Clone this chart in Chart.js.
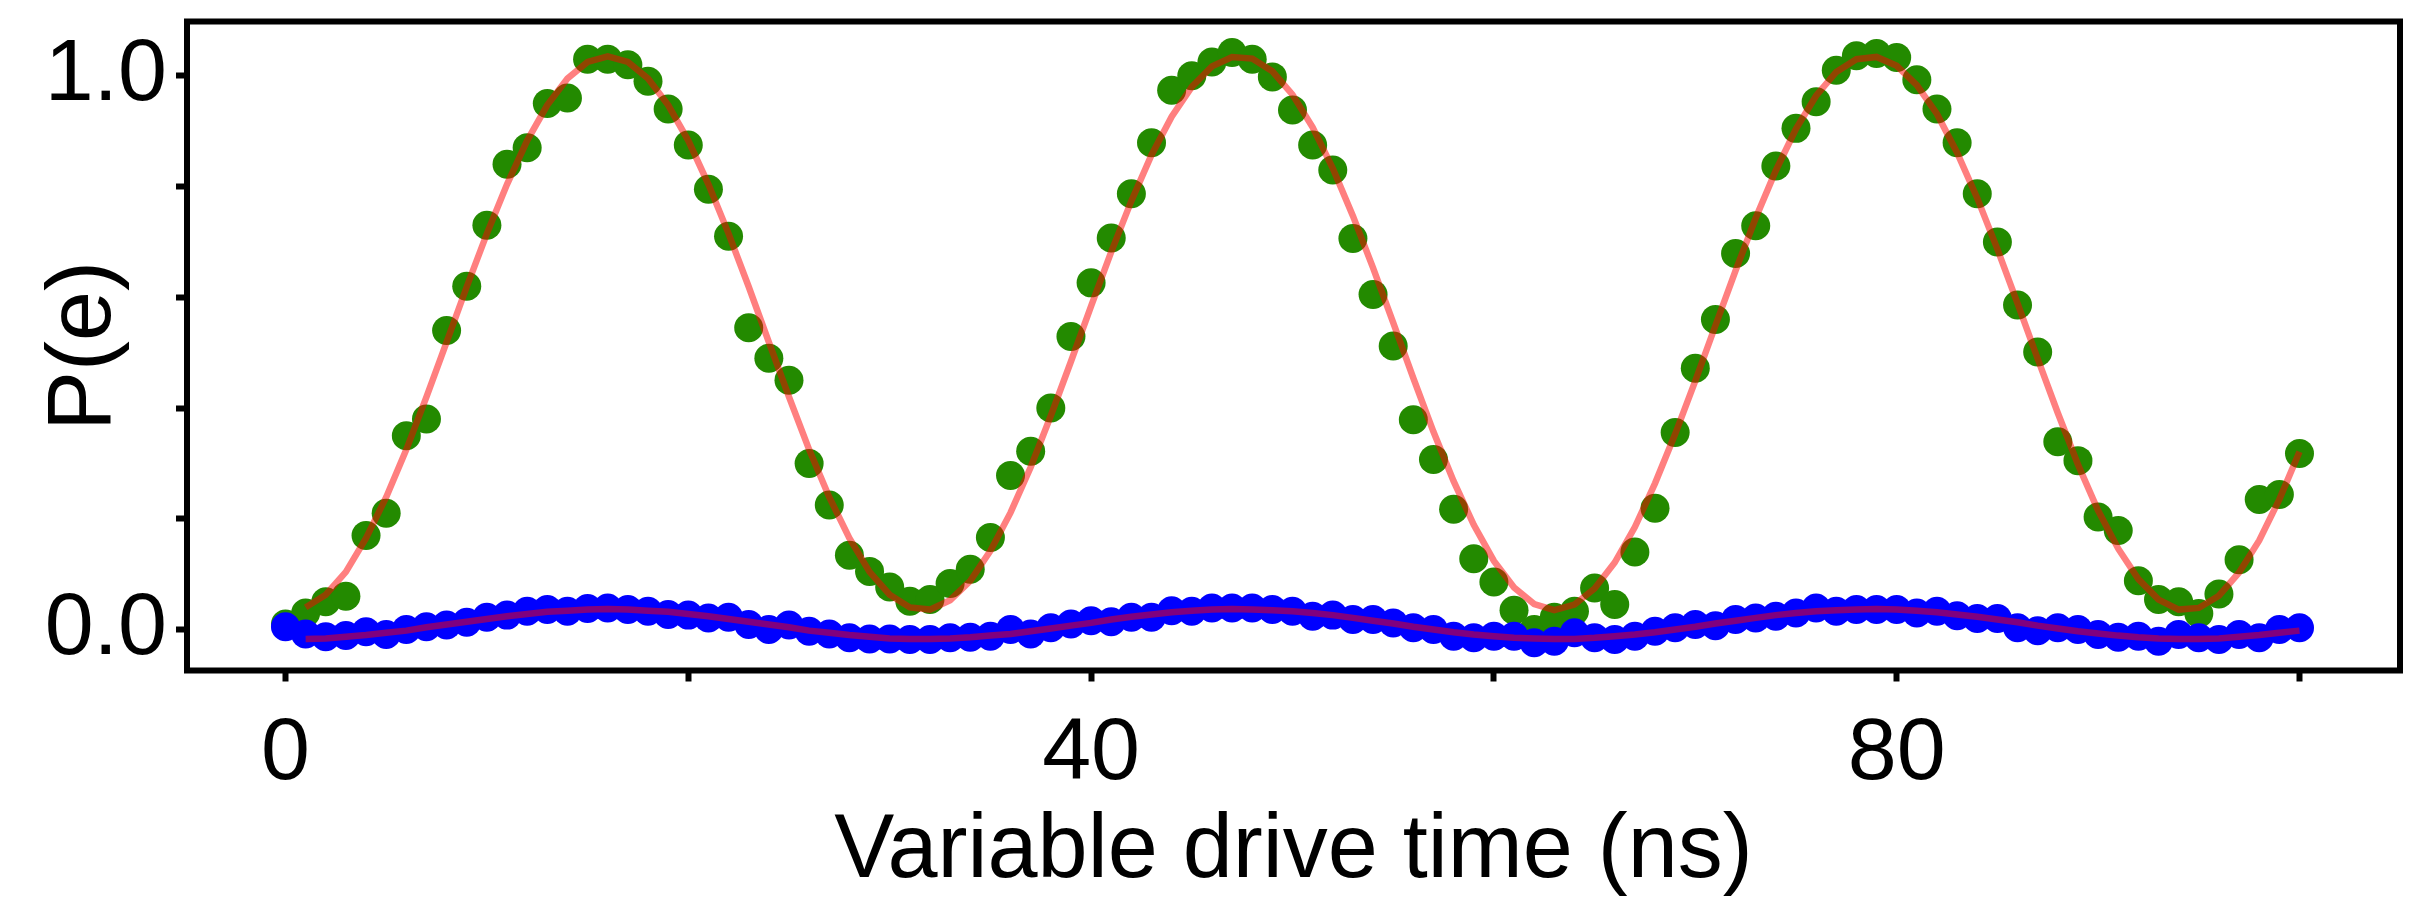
<!DOCTYPE html>
<html>
<head>
<meta charset="utf-8">
<title>Rabi oscillation</title>
<script src="https://cdn.jsdelivr.net/npm/chart.js@4.4.1/dist/chart.umd.min.js"></script>
<style>
  html, body { margin: 0; padding: 0; background: #fff; }
</style>
</head>
<body>
<canvas id="rabi" width="2431" height="901"></canvas>
<script>
// drive time in ns, one measurement per ns
const driveTime = [
  0, 1, 2, 3, 4, 5, 6, 7, 8, 9, 10, 11, 12, 13, 14, 15, 16, 17, 18, 19,
  20, 21, 22, 23, 24, 25, 26, 27, 28, 29, 30, 31, 32, 33, 34, 35, 36, 37, 38, 39,
  40, 41, 42, 43, 44, 45, 46, 47, 48, 49, 50, 51, 52, 53, 54, 55, 56, 57, 58, 59,
  60, 61, 62, 63, 64, 65, 66, 67, 68, 69, 70, 71, 72, 73, 74, 75, 76, 77, 78, 79,
  80, 81, 82, 83, 84, 85, 86, 87, 88, 89, 90, 91, 92, 93, 94, 95, 96, 97, 98, 99, 100
];

// excited state population, resonant drive
const pDriven = [
  0.010, 0.030, 0.050, 0.060, 0.170, 0.210, 0.350, 0.380, 0.540, 0.620,
  0.730, 0.840, 0.870, 0.950, 0.960, 1.030, 1.030, 1.020, 0.990, 0.940,
  0.875, 0.795, 0.710, 0.545, 0.490, 0.450, 0.300, 0.225, 0.134, 0.105,
  0.077, 0.051, 0.054, 0.083, 0.109, 0.166, 0.278, 0.322, 0.400, 0.529,
  0.626, 0.707, 0.787, 0.879, 0.974, 1.000, 1.025, 1.042, 1.030, 0.998,
  0.938, 0.875, 0.830, 0.706, 0.605, 0.512, 0.379, 0.307, 0.217, 0.128,
  0.086, 0.035, 0.000, 0.022, 0.033, 0.075, 0.045, 0.140, 0.219, 0.356,
  0.472, 0.560, 0.679, 0.729, 0.837, 0.905, 0.953, 1.010, 1.036, 1.040,
  1.033, 0.993, 0.940, 0.879, 0.787, 0.700, 0.586, 0.501, 0.339, 0.305,
  0.203, 0.179, 0.088, 0.054, 0.050, 0.029, 0.064, 0.126, 0.235, 0.244,
  0.318
];

// excited state population, second qubit (leakage)
const pSpectator = [
  0.005, -0.008, -0.013, -0.011, -0.004, -0.009, 0.000, 0.005, 0.008, 0.013,
  0.022, 0.026, 0.033, 0.036, 0.033, 0.038, 0.039, 0.036, 0.033, 0.027,
  0.026, 0.021, 0.022, 0.009, 0.000, 0.008, -0.003, -0.008, -0.015, -0.017,
  -0.017, -0.018, -0.018, -0.015, -0.014, -0.012, 0.000, -0.008, 0.003, 0.010,
  0.016, 0.014, 0.022, 0.022, 0.034, 0.033, 0.039, 0.039, 0.039, 0.036,
  0.033, 0.024, 0.026, 0.018, 0.018, 0.012, 0.003, 0.000, -0.012, -0.015,
  -0.012, -0.012, -0.024, -0.021, -0.006, -0.015, -0.018, -0.012, -0.003, 0.003,
  0.009, 0.007, 0.018, 0.021, 0.024, 0.030, 0.039, 0.033, 0.036, 0.036,
  0.036, 0.030, 0.033, 0.025, 0.020, 0.020, 0.003, -0.002, 0.003, 0.000,
  -0.009, -0.014, -0.012, -0.021, -0.009, -0.015, -0.018, -0.009, -0.015, 0.000,
  0.003
];

// sinusoidal fits, evaluated from 1 ns to 100 ns
const fitTime = driveTime.slice(1);
const fitDriven = [
  0.040, 0.063, 0.104, 0.165, 0.239, 0.325, 0.420, 0.519, 0.619, 0.715,
  0.804, 0.883, 0.947, 0.995, 1.025, 1.035, 1.025, 0.995, 0.947, 0.883,
  0.804, 0.715, 0.619, 0.519, 0.420, 0.325, 0.239, 0.165, 0.104, 0.063,
  0.040, 0.036, 0.053, 0.088, 0.142, 0.211, 0.293, 0.386, 0.484, 0.584,
  0.682, 0.774, 0.857, 0.926, 0.980, 1.017, 1.034, 1.031, 1.008, 0.966,
  0.907, 0.833, 0.747, 0.653, 0.554, 0.454, 0.357, 0.268, 0.189, 0.124,
  0.076, 0.046, 0.035, 0.045, 0.074, 0.121, 0.185, 0.264, 0.353, 0.449,
  0.549, 0.648, 0.743, 0.829, 0.904, 0.964, 1.007, 1.030, 1.034, 1.018,
  0.983, 0.931, 0.861, 0.779, 0.687, 0.589, 0.489, 0.391, 0.298, 0.215,
  0.146, 0.091, 0.054, 0.036, 0.039, 0.061, 0.103, 0.161, 0.235, 0.321
];
const fitSpectator = [
  -0.017, -0.016, -0.013, -0.010, -0.006, -0.002, 0.004, 0.009, 0.014, 0.019,
  0.024, 0.028, 0.032, 0.034, 0.036, 0.037, 0.036, 0.034, 0.032, 0.028,
  0.024, 0.019, 0.014, 0.009, 0.004, -0.002, -0.006, -0.010, -0.013, -0.016,
  -0.017, -0.017, -0.016, -0.014, -0.011, -0.008, -0.003, 0.002, 0.007, 0.012,
  0.018, 0.023, 0.027, 0.031, 0.034, 0.036, 0.037, 0.036, 0.035, 0.033,
  0.030, 0.026, 0.021, 0.016, 0.011, 0.005, 0.000, -0.005, -0.009, -0.012,
  -0.015, -0.016, -0.017, -0.017, -0.015, -0.012, -0.009, -0.005, 0.000, 0.005,
  0.011, 0.016, 0.021, 0.026, 0.030, 0.033, 0.035, 0.036, 0.037, 0.036,
  0.034, 0.031, 0.027, 0.023, 0.018, 0.013, 0.007, 0.002, -0.003, -0.007,
  -0.011, -0.014, -0.016, -0.017, -0.017, -0.016, -0.013, -0.010, -0.006, -0.002
];

const xTicks = [0, 20, 40, 60, 80, 100];
const xLabels = [0, 40, 80];
const yTicks = [0, 0.2, 0.4, 0.6, 0.8, 1.0];
const yLabels = [0, 1];

const pts = (xs, ys) => xs.map((x, i) => ({ x: x, y: ys[i] }));

const FONT = '"Liberation Sans", Arial, Helvetica, sans-serif';
const fitColor = 'rgba(255, 0, 0, 0.5)';

// box around the plot area
const frame = {
  id: 'frame',
  afterDraw(chart) {
    const { ctx, chartArea: a } = chart;
    ctx.save();
    ctx.strokeStyle = '#000';
    ctx.lineWidth = 6;
    ctx.strokeRect(a.left, a.top, a.right - a.left, a.bottom - a.top);
    ctx.restore();
  }
};

new Chart(document.getElementById('rabi'), {
  type: 'scatter',
  data: {
    datasets: [
      {
        type: 'line', label: 'fit', order: 0,
        data: pts(fitTime, fitSpectator),
        borderColor: fitColor, borderWidth: 6.5, pointRadius: 0, tension: 0, fill: false
      },
      {
        type: 'line', label: 'fit', order: 1,
        data: pts(fitTime, fitDriven),
        borderColor: fitColor, borderWidth: 6.5, pointRadius: 0, tension: 0, fill: false
      },
      {
        label: 'spectator', order: 2,
        data: pts(driveTime, pSpectator),
        backgroundColor: '#0000ff', borderWidth: 0,
        pointRadius: 14.5, pointHoverRadius: 14.5
      },
      {
        label: 'driven', order: 3,
        data: pts(driveTime, pDriven),
        backgroundColor: '#238a00', borderWidth: 0,
        pointRadius: 14.5, pointHoverRadius: 14.5
      }
    ]
  },
  options: {
    responsive: false,
    animation: false,
    events: [],
    layout: { padding: { top: 21.5, right: 31, bottom: 0, left: 0 } },
    plugins: { legend: { display: false }, tooltip: { enabled: false } },
    scales: {
      x: {
        type: 'linear',
        min: -4.89, max: 104.99,
        afterFit: s => {
          s.height = 230.5;
          s.paddingLeft = 0; s.paddingRight = 0;
        },
        afterBuildTicks: s => { s.ticks = xTicks.map(v => ({ value: v })); },
        border: { display: false },
        grid: { drawOnChartArea: false, drawTicks: true, tickLength: 11, tickWidth: 6, tickColor: '#000' },
        ticks: {
          autoSkip: false, maxRotation: 0, padding: 20, color: '#000',
          font: { family: FONT, size: 88 },
          callback: v => xLabels.includes(v) ? String(v) : ''
        },
        title: {
          display: true, text: 'Variable drive time (ns)', color: '#000',
          font: { family: FONT, size: 90 }, padding: { top: 0, bottom: -5 }
        }
      },
      y: {
        type: 'linear',
        min: -0.074, max: 1.098,
        afterFit: s => {
          s.width = 187;
          s.paddingTop = 0; s.paddingBottom = 0;
        },
        afterBuildTicks: s => { s.ticks = yTicks.map(v => ({ value: v })); },
        border: { display: false },
        grid: { drawOnChartArea: false, drawTicks: true, tickLength: 11, tickWidth: 6, tickColor: '#000' },
        ticks: {
          autoSkip: false, padding: 9, color: '#000',
          font: { family: FONT, size: 88 },
          callback: v => yLabels.includes(v) ? v.toFixed(1) : ''
        },
        title: {
          display: true, text: 'P(e)', color: '#000',
          font: { family: FONT, size: 90 }, padding: { top: 31, bottom: 0 }
        }
      }
    }
  },
  plugins: [frame]
});
</script>
</body>
</html>
